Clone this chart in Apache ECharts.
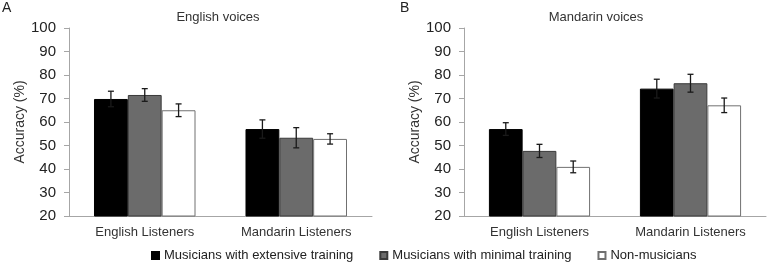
<!DOCTYPE html>
<html>
<head>
<meta charset="utf-8">
<script src="https://cdn.jsdelivr.net/npm/echarts@6/dist/echarts.min.js"></script>
<style>
  html, body { margin: 0; padding: 0; background: #fff; }
  #chart { width: 768px; height: 264px; }
</style>
</head>
<body>
<div id="chart"></div>
<script>
// categories + groups
const categories = ['English Listeners', 'Mandarin Listeners']
const groups = ['Musicians with extensive training', 'Musicians with minimal training', 'Non-musicians']
const yTicks = [20, 30, 40, 50, 60, 70, 80, 90, 100]

// A: English voices (mean, error)
const engExtensive = [69.8, 57.0]
const engExtensiveErr = [3.3, 3.9]
const engMinimal = [71.5, 53.3]
const engMinimalErr = [2.7, 4.3]
const engNon = [65.0, 52.8]
const engNonErr = [2.7, 2.2]

// B: Mandarin voices (mean, error)
const manExtensive = [57.0, 74.2]
const manExtensiveErr = [2.7, 4.0]
const manMinimal = [47.7, 76.5]
const manMinimalErr = [2.8, 3.8]
const manNon = [40.9, 67.1]
const manNonErr = [2.5, 3.1]

const fills = ['#000000', '#6b6b6b', '#ffffff']
const borders = ['#000000', '#3a3a3a', '#707070']
const GAP = 0.33

const panels = [
  { means: [engExtensive, engMinimal, engNon], errs: [engExtensiveErr, engMinimalErr, engNonErr] },
  { means: [manExtensive, manMinimal, manNon], errs: [manExtensiveErr, manMinimalErr, manNonErr] },
]

const series = []
panels.forEach((p, pi) => {
  p.means.forEach((vals, gi) => {
    series.push({
      type: 'bar',
      name: groups[gi],
      xAxisIndex: pi,
      yAxisIndex: pi,
      data: vals,
      barGap: 0,
      barCategoryGap: GAP * 100 + '%',
      itemStyle: { color: fills[gi], borderColor: borders[gi], borderWidth: 1 },
    })
  })
  p.means.forEach((vals, gi) => {
    //误差线
    series.push({
      type: 'custom',
      xAxisIndex: pi,
      yAxisIndex: pi,
      silent: true,
      z: 5,
      data: vals.map((v, ci) => [ci, v - p.errs[gi][ci], v + p.errs[gi][ci]]),
      renderItem: (params, api) => {
        const catW = api.size([1, 0])[0]
        const barW = catW * (1 - GAP) / 3
        const dx = (gi - 1) * barW
        const lo = api.coord([api.value(0), api.value(1)])
        const hi = api.coord([api.value(0), api.value(2)])
        const x = lo[0] + dx
        const cap = 3
        const style = { stroke: '#1a1a1a', lineWidth: 1.3 }
        return {
          type: 'group',
          children: [
            { type: 'line', shape: { x1: x, y1: lo[1], x2: x, y2: hi[1] }, style },
            { type: 'line', shape: { x1: x - cap, y1: lo[1], x2: x + cap, y2: lo[1] }, style },
            { type: 'line', shape: { x1: x - cap, y1: hi[1], x2: x + cap, y2: hi[1] }, style },
          ],
        }
      },
    })
  })
})

const axisGray = '#a6a6a6'
const mkX = (gi) => ({
  type: 'category',
  gridIndex: gi,
  data: categories,
  axisLine: { lineStyle: { color: axisGray } },
  axisTick: { length: 5, lineStyle: { color: axisGray } },
  axisLabel: { color: '#333', fontSize: 13, margin: 10, fontFamily: 'Liberation Sans, Arial' },
})
const mkY = (gi) => ({
  type: 'value',
  gridIndex: gi,
  min: yTicks[0],
  max: yTicks[yTicks.length - 1],
  interval: 10,
  name: 'Accuracy (%)',
  nameLocation: 'middle',
  nameGap: 40,
  nameTextStyle: { color: '#333', fontSize: 14, fontFamily: 'Liberation Sans, Arial' },
  splitLine: { show: false },
  axisLine: { show: true, lineStyle: { color: axisGray } },
  axisTick: { show: true, length: 5, lineStyle: { color: axisGray } },
  axisLabel: { color: '#222', fontSize: 15, margin: 13, fontFamily: 'Liberation Sans, Arial' },
})

const mycharts = echarts.init(document.getElementById('chart'))
mycharts.setOption({
  animation: false,
  title: [
    { text: 'A', left: 2, top: 1, padding: 0, textStyle: { fontSize: 14, fontWeight: 'normal', color: '#222', fontFamily: 'Liberation Sans, Arial' } },
    { text: 'English voices', left: 218, top: 11, padding: 0, textAlign: 'center', textStyle: { fontSize: 13, fontWeight: 'normal', color: '#333', fontFamily: 'Liberation Sans, Arial' } },
    { text: 'B', left: 400, top: 1, padding: 0, textStyle: { fontSize: 14, fontWeight: 'normal', color: '#222', fontFamily: 'Liberation Sans, Arial' } },
    { text: 'Mandarin voices', left: 596, top: 11, padding: 0, textAlign: 'center', textStyle: { fontSize: 13, fontWeight: 'normal', color: '#333', fontFamily: 'Liberation Sans, Arial' } },
  ],
  legend: {
    data: groups,
    left: 151,
    top: 249,
    padding: 0,
    icon: 'rect',
    itemWidth: 7,
    itemHeight: 7,
    itemGap: 26,
    textStyle: { color: '#222', fontSize: 13, fontFamily: 'Liberation Sans, Arial' },
  },
  grid: [
    { left: 69, right: 396, top: 28, bottom: 48 },
    { left: 464, right: 2, top: 28, bottom: 48 },
  ],
  xAxis: [mkX(0), mkX(1)],
  yAxis: [mkY(0), mkY(1)],
  series,
})
</script>
</body>
</html>
